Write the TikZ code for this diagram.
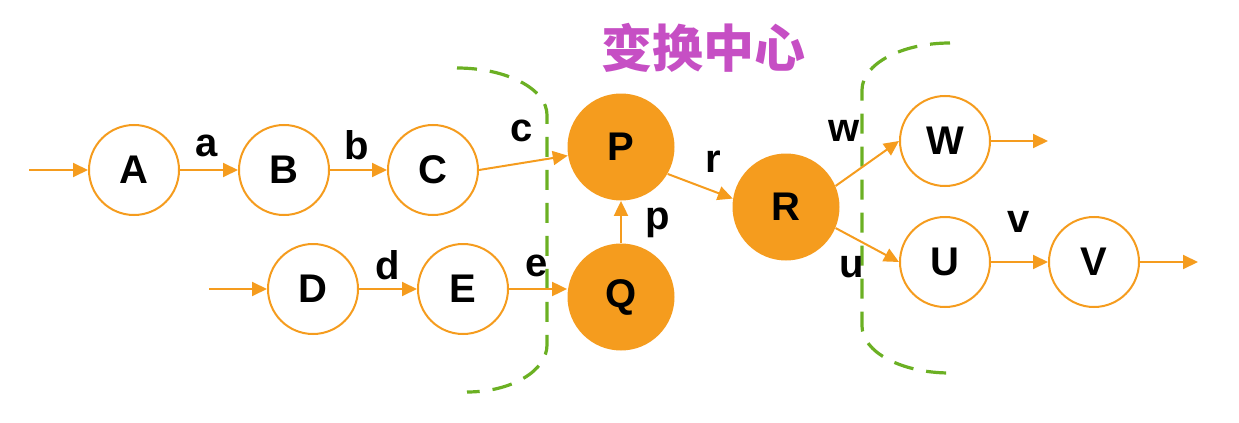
\documentclass[tikz,border=0pt]{standalone}
\usepackage{fontspec}
\setmainfont{Liberation Sans}
\newfontfamily\cjk{Noto Sans CJK SC}
\usetikzlibrary{arrows.meta}
\definecolor{orng}{HTML}{F59C1E}
\definecolor{grn}{HTML}{6BB023}
\definecolor{mgnt}{HTML}{C64FC4}
\tikzset{
  state/.style={circle, draw=orng, line width=1pt, fill=white, minimum size=45pt, inner sep=0pt, font=\fontsize{20}{24}\selectfont\bfseries},
  hub/.style={circle, fill=orng, minimum size=53.5pt, inner sep=0pt, font=\fontsize{20}{24}\selectfont\bfseries},
  flow/.style={draw=orng, line width=1pt, -{Triangle[length=7.5pt,width=7pt]}},
  lbl/.style={inner sep=0pt, font=\fontsize{20}{24}\selectfont\bfseries},
  border/.style={draw=grn, line width=1.6pt, dash pattern=on 10pt off 6.5pt}
}

\begin{document}
\begin{tikzpicture}[x=0.5pt, y=-0.5pt]
		%%%%% START %%%%%
		\useasboundingbox (0,0) rectangle (1239,423);
		
		\node[text=mgnt, inner sep=0pt, font=\fontsize{25.5}{30}\selectfont] (title) at (703,48) {\cjk\bfseries 变换中心};
		
		\draw[border] (457,68) arc[start angle=-90, end angle=0, x radius=90, y radius=47] -- (547,345) arc[start angle=0, end angle=90, x radius=80, y radius=47];
		\draw[border] (950,43) arc[start angle=-90, end angle=-180, x radius=88, y radius=47] -- (862,326) arc[start angle=180, end angle=90, x radius=88, y radius=47];
		
		\node[state] (A) at (134,170) {A};
		\node[state] (B) at (284,170) {B};
		\node[state] (C) at (433,170) {C};
		\node[state] (D) at (313,289) {D};
		\node[state] (E) at (463,289) {E};
		\node[hub] (P) at (621,147) {P};
		\node[hub] (Q) at (621,297) {Q};
		\node[hub] (R) at (786,207) {R};
		\node[state] (W) at (945,141) {W};
		\node[state] (U) at (945,262) {U};
		\node[state] (V) at (1094,262) {V};
		
		\coordinate (inA) at (29,170);
		\coordinate (inD) at (209,289);
		\coordinate (outW) at (1048,141);
		\coordinate (outV) at (1198,262);
		
		\draw[flow] (inA) -- (A);
		\draw[flow] (A) -- (B);
		\draw[flow] (B) -- (C);
		\draw[flow] (C.east) -- (P);
		\draw[flow] (inD) -- (D);
		\draw[flow] (D) -- (E);
		\draw[flow] (E) -- (E -| Q.west);
		\draw[flow] (Q) -- (P);
		\draw[flow] (P.-30) -- (R.171);
		\draw[flow] (R.23) -- (W.west);
		\draw[flow] (R.-23) -- (U.west);
		\draw[flow] (W) -- (outW);
		\draw[flow] (U) -- (V);
		\draw[flow] (V) -- (outV);
		
		\node[lbl] (la) at (207,146) {a};
		\node[lbl] (lb) at (357,145) {b};
		\node[lbl] (lc) at (522,131) {c};
		\node[lbl] (ld) at (388,265) {d};
		\node[lbl] (le) at (537,266) {e};
		\node[lbl] (lp) at (658,223) {p};
		\node[lbl] (lr) at (713,162) {r};
		\node[lbl] (lw) at (844,131) {w};
		\node[lbl] (lu) at (852,267) {u};
		\node[lbl] (lv) at (1019,222) {v};
		
		%%%%% END %%%%%
\end{tikzpicture}
\end{document}
